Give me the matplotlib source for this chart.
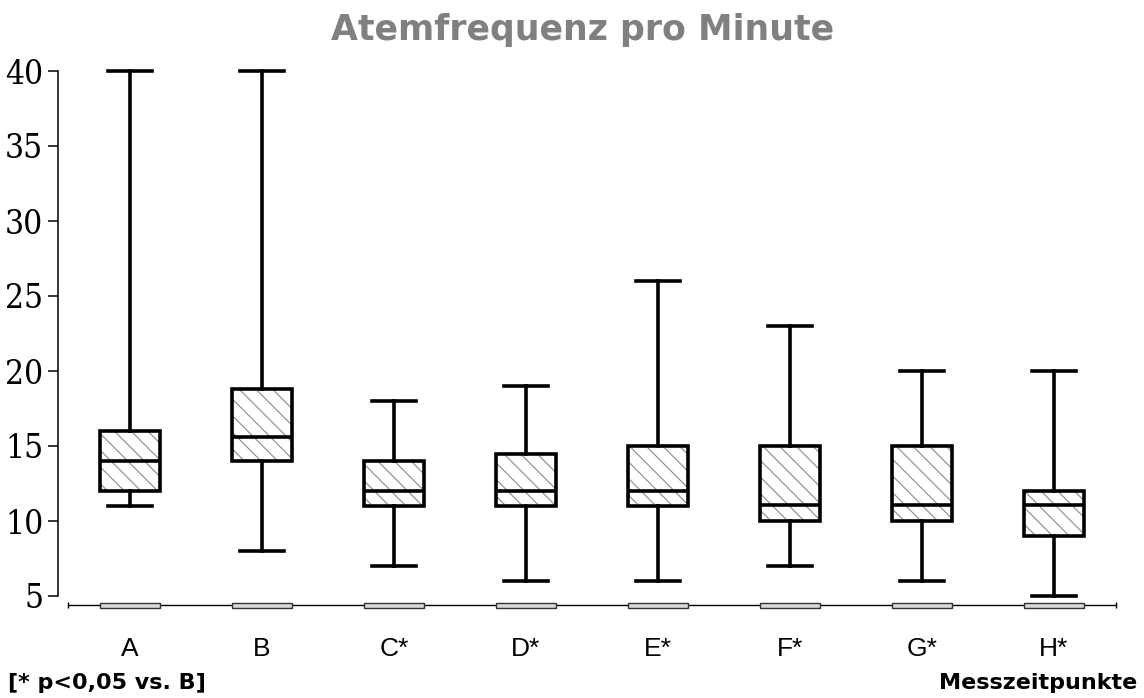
"""Boxplot der Atemfrequenz pro Messzeitpunkt."""
import matplotlib
matplotlib.use("Agg")
import matplotlib.pyplot as plt
from matplotlib import font_manager

# Daten
labels = ["A", "B", "C*", "D*", "E*", "F*", "G*", "H*"]
whisk_lo = [11, 8, 7, 6, 6, 7, 6, 5]
q1 = [12, 14, 11, 11, 11, 10, 10, 9]
median = [14, 15.6, 12, 12, 12, 11.1, 11.1, 11.1]
q3 = [16, 18.8, 14, 14.5, 15, 15, 15, 12]
whisk_hi = [40, 40, 18, 19, 26, 23, 20, 20]
yticks = [5, 10, 15, 20, 25, 30, 35, 40]

# schmale Schrift fuer die y-Achse, falls vorhanden
cond = [f for f in font_manager.fontManager.ttflist
        if f.name in ("DejaVu Sans", "DejaVu Serif") and "ondensed" in f.fname]
if any(f.name == "DejaVu Serif" for f in cond):
    yfont = dict(fontfamily="DejaVu Serif", fontstretch="condensed", fontsize=24)
elif cond:
    yfont = dict(fontfamily="DejaVu Sans", fontstretch="condensed", fontsize=24)
else:
    yfont = dict(fontfamily="Liberation Sans", fontsize=24)

plt.rcParams["hatch.linewidth"] = 0.8

stats = []
for lab, lo, a, m, b, hi in zip(labels, whisk_lo, q1, median, q3, whisk_hi):
    stats.append({"label": lab, "whislo": lo, "q1": a, "med": m, "q3": b,
                  "whishi": hi, "fliers": []})
pos = list(range(len(labels)))

fig = plt.figure(figsize=(11.44, 6.98), dpi=100)
ax = fig.add_axes([58 / 1144, 87 / 698, 1058 / 1144, 555 / 698])

# hatch layer (grey diagonal lines)
ax.bxp(stats, positions=pos, widths=0.45, patch_artist=True, showcaps=False,
       boxprops=dict(facecolor="white", edgecolor="#8a8a8a", linewidth=0, hatch="\\\\"),
       whiskerprops=dict(linewidth=0), medianprops=dict(linewidth=0))
# outline layer
ax.bxp(stats, positions=pos, widths=0.45, patch_artist=True, capwidths=0.33,
       boxprops=dict(facecolor="none", edgecolor="black", linewidth=2.6),
       whiskerprops=dict(color="black", linewidth=2.6),
       capprops=dict(color="black", linewidth=2.6),
       medianprops=dict(color="black", linewidth=2.6))

# base line with small markers under each group
ax.plot([-0.47, 7.47], [4.4, 4.4], color="black", lw=1, clip_on=False, zorder=1)
ax.plot([-0.47, 7.47], [4.4, 4.4], ls="none", marker="|", ms=5, mew=1,
        color="black", clip_on=False)
ax.bar(pos, 0.33, bottom=4.23, width=0.45, color="#d9d9d9", edgecolor="#333333",
       linewidth=1, zorder=2, clip_on=False)

ax.set_xlim(-0.545, 7.47)
ax.set_ylim(4.0, 41)
ax.set_yticks(yticks)
ax.set_yticklabels([str(t) for t in yticks], **yfont)
ax.tick_params(axis="y", length=7, width=1.1, pad=3.5)
ax.set_xticks(pos)
ax.set_xticklabels(labels, fontfamily="Liberation Sans", fontsize=19)
ax.tick_params(axis="x", length=0, pad=18.5)

for s in ["top", "right", "bottom"]:
    ax.spines[s].set_visible(False)
ax.spines["left"].set_bounds(5, 40)
ax.spines["left"].set_linewidth(1.1)

fig.text(0.509, 0.957, "Atemfrequenz pro Minute", ha="center", va="center",
         fontsize=25, fontweight="bold", color="#808080")
fig.text(8 / 1144, 1 - 683 / 698, "[* p<0,05 vs. B]", ha="left", va="center",
         fontsize=16, fontweight="bold")
fig.text(1137 / 1144, 1 - 683 / 698, "Messzeitpunkte", ha="right", va="center",
         fontsize=16, fontweight="bold")

fig.savefig("out.png", dpi=100)
